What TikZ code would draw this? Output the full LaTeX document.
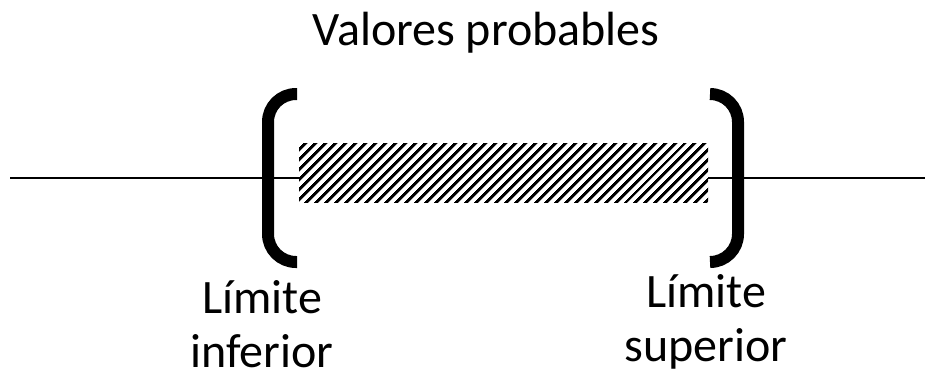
\documentclass[tikz,border=0pt]{standalone}
\usepackage{fontspec}
\setmainfont{Carlito}
\usetikzlibrary{patterns.meta}
\begin{document}
\begin{tikzpicture}[x=1pt,y=-1pt,
  lbl/.style={font=\fontsize{48}{54}\selectfont, inner sep=0pt, align=center},
  brk/.style={line width=12pt, rounded corners=28pt}]
\useasboundingbox (0,0) rectangle (925,381);
\fill[white] (0,0) rectangle (925,381);
\coordinate (L0) at (10,178);
\coordinate (R0) at (925,178);
\draw[line width=1.5pt] (L0) -- (R0);
\fill[white] (299,143) rectangle (708,202);
\node[draw=none, minimum width=409pt, minimum height=59pt, inner sep=0pt,
  pattern={Lines[angle=45,distance=6.9pt,line width=3pt]}] (hatch) at (503.5,172.5) {};
\draw[brk] (297,94) -- (268,94) -- (268,262) -- (297,262);
\draw[brk] (710,94) -- (738,94) -- (738,262) -- (710,262);
\node[lbl] (title) at (486,33) {Valores probables};
\node[lbl] (linf) at (262,324) {Límite\\inferior};
\node[lbl] (lsup) at (706,322) {Límite\\superior};
\end{tikzpicture}
\end{document}
